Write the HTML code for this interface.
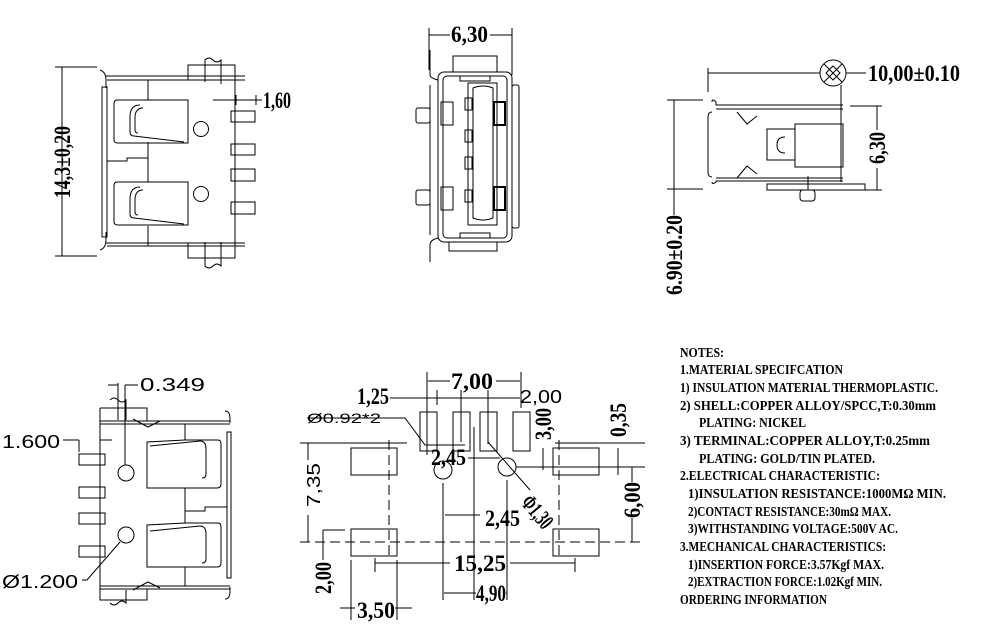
<!DOCTYPE html>
<html><head><meta charset="utf-8"><style>
html,body{margin:0;padding:0;background:#fff;}
svg{display:block}
.d{font-family:"Liberation Serif",serif;font-weight:bold;font-size:23px;}
.t{font-family:"Liberation Sans",sans-serif;font-size:18px;}
.n{font-family:"Liberation Serif","Noto Serif CJK SC",serif;font-weight:bold;font-size:13.5px;}
</style></head><body>
<svg width="995" height="630" viewBox="0 0 995 630" xmlns="http://www.w3.org/2000/svg">
<g fill="none" stroke="#000" stroke-width="1">
<!-- View 1 top-left -->
<line x1="55" y1="67" x2="97" y2="67"/><line x1="55" y1="256" x2="97" y2="256"/>
<line x1="62" y1="67" x2="62" y2="256"/>
<path d="M100 70 q6 2 6 10 v8 M100 250 q6 -2 6 -10 v-8"/>
<rect x="102" y="87" width="5" height="150"/>
<line x1="107" y1="80" x2="245" y2="80"/><line x1="106" y1="76" x2="245" y2="76"/>
<line x1="107" y1="246" x2="245" y2="246"/><line x1="106" y1="243" x2="245" y2="243"/>
<path d="M148 80 V100 M148 142 V182 M148 226 V246"/>
<line x1="235" y1="80" x2="235" y2="246"/>
<path d="M148 100 H117 q-3 0 -3 4 V140 q0 3 4 3 H188 V100 Z"/>
<path d="M148 182 H117 q-3 0 -3 4 V222 q0 3 4 3 H188 V182 Z"/>
<path d="M140 105 q-10 0 -10 12 v15 q0 4 4 4 l50 6 M140 187 q-10 0 -10 12 v15 q0 4 4 4 l50 6"/>
<path d="M143 108 q-8 0 -8 10 v12 q0 3 3 3 M143 190 q-8 0 -8 10 v12 q0 3 3 3"/>
<path d="M107 161 h20 v-3 h21"/>
<circle cx="201" cy="129" r="7.5"/><circle cx="201" cy="194" r="7.5"/>
<rect x="231" y="111" width="24" height="11"/><rect x="231" y="144" width="24" height="11"/>
<rect x="231" y="169" width="24" height="12"/><rect x="231" y="202" width="24" height="12"/>
<rect x="188" y="65" width="47" height="15"/><rect x="188" y="243" width="47" height="15"/>
<path d="M205 82 V60 q4 -4 8 0 q4 4 8 0 V84 M205 242 V266 q4 4 8 0 q4 -4 8 0 V242"/>
<line x1="213" y1="100" x2="262" y2="100"/><line x1="236" y1="95" x2="236" y2="105"/><line x1="256" y1="95" x2="256" y2="105"/>
<!-- View 2 top-middle -->
<line x1="429" y1="28" x2="429" y2="70"/><line x1="512" y1="28" x2="512" y2="75"/>
<line x1="429" y1="35" x2="450" y2="35"/><line x1="490" y1="35" x2="512" y2="35"/>
<rect x="438" y="72" width="74" height="170" rx="6"/>
<rect x="443" y="76" width="64" height="162" rx="4"/>
<rect x="453" y="56" width="44" height="16"/>
<rect x="449" y="242" width="48" height="9"/>
<rect x="460" y="76" width="30" height="5"/><rect x="460" y="233" width="30" height="5"/>
<line x1="468" y1="83" x2="468" y2="225"/>
<path d="M468 83 H497 V225 H468"/>
<path d="M473 88 q10 -4 20 0 V218 q-10 4 -20 0 Z"/>
<rect x="465" y="98" width="7" height="12"/><rect x="465" y="130" width="7" height="12"/>
<rect x="465" y="157" width="7" height="12"/><rect x="465" y="190" width="7" height="12"/>
<rect x="441" y="102" width="12" height="23"/><rect x="441" y="187" width="12" height="23"/>
<rect x="494" y="102" width="11" height="23" stroke-width="2"/><rect x="494" y="187" width="11" height="23" stroke-width="2"/>
<path d="M430 50 V75 q0 3 8 5 M430 262 V245 q0 -5 8 -7"/>
<line x1="430" y1="85" x2="430" y2="235"/>
<rect x="416" y="108" width="14" height="15" rx="2"/><rect x="416" y="190" width="14" height="15" rx="2"/>
<rect x="512" y="85" width="7" height="143" rx="2"/>
<!-- View 3 top-right -->
<line x1="708" y1="68" x2="708" y2="92"/>
<line x1="708" y1="73" x2="820" y2="73"/><line x1="846" y1="73" x2="866" y2="73"/>
<circle cx="833" cy="73" r="13"/>
<path d="M824 64 L842 82 M842 64 L824 82 M826 73 L833 66 L840 73 L833 80 Z"/>
<line x1="841" y1="85" x2="841" y2="182"/>
<path d="M712 102 q0 -4 4 0 v3 H843 M712 182 q0 3 4 0 v-1 H843"/>
<line x1="716" y1="109" x2="843" y2="109"/><line x1="716" y1="178" x2="843" y2="178"/>
<path d="M712 112 q-4 0 -4 5 V172 q0 5 4 5"/>
<path d="M737 112 l10 12 l10 -8 M737 178 l10 -12 l10 8"/>
<rect x="767" y="129" width="28" height="31"/>
<rect x="795" y="124" width="48" height="43"/>
<path d="M785 137 q-8 0 -8 8 q0 8 8 8"/>
<rect x="767" y="184" width="98" height="6"/>
<rect x="800" y="190" width="15" height="11" rx="3"/>
<line x1="808" y1="176" x2="808" y2="190"/>
<line x1="850" y1="106" x2="882" y2="106"/><line x1="850" y1="190" x2="882" y2="190"/>
<line x1="877" y1="106" x2="877" y2="130"/><line x1="877" y1="168" x2="877" y2="190"/>
<line x1="667" y1="100" x2="703" y2="100"/><line x1="667" y1="189" x2="703" y2="189"/>
<line x1="674" y1="100" x2="674" y2="215"/>
<!-- View 4 bottom-left -->
<path d="M100 408 H147 V421 M100 408 V600 H147 V589"/>
<line x1="100" y1="421" x2="230" y2="421"/><line x1="100" y1="424" x2="230" y2="424"/>
<line x1="100" y1="589" x2="230" y2="589"/><line x1="100" y1="586" x2="230" y2="586"/>
<path d="M225 411 q5 0 5 8 V423 M225 599 q5 0 5 -8 V587"/>
<rect x="227" y="432" width="4" height="146"/>
<path d="M185 424 V440 M185 488 V523 M185 567 V586 M185 511 h20 v-4 h22"/>
<path d="M185 440 H218 q3 0 3 4 V484 q0 4 -4 4 H147 V442 Z"/>
<path d="M185 523 H218 q3 0 3 4 V563 q0 4 -4 4 H147 V525 Z"/>
<path d="M150 446 l50 -5 q6 0 6 8 v25 q0 4 -4 4 M150 531 l50 -5 q6 0 6 8 v25 q0 4 -4 4"/>
<circle cx="126" cy="473" r="8"/><circle cx="126" cy="535" r="8"/>
<rect x="79" y="454" width="26" height="11"/><rect x="79" y="487" width="26" height="11"/>
<rect x="79" y="513" width="26" height="11"/><rect x="79" y="546" width="26" height="11"/>
<path d="M110 400 q4 -4 8 0 q4 4 8 0 V420 M110 603 q4 4 8 0 q4 -4 8 0 V590"/>
<path d="M133 419 l15 8 l12 -6 M133 590 l15 -8 l12 6"/>
<line x1="125" y1="385" x2="125" y2="465"/><line x1="118" y1="383" x2="118" y2="420"/>
<line x1="108" y1="385" x2="118" y2="385"/><line x1="125" y1="385" x2="138" y2="385"/>
<line x1="63" y1="440" x2="79" y2="440"/><line x1="79" y1="440" x2="79" y2="452"/><line x1="100" y1="440" x2="112" y2="440"/>
<path d="M82 580 H87 L120 542"/>
<!-- View 5 bottom-middle -->
<rect x="420" y="412" width="17" height="39"/><rect x="453" y="412" width="17" height="39"/>
<rect x="480" y="412" width="17" height="39"/><rect x="513" y="412" width="17" height="39"/>
<line x1="427" y1="372" x2="427" y2="455"/><line x1="521" y1="372" x2="521" y2="408"/>
<line x1="428" y1="381" x2="450" y2="381"/><line x1="496" y1="381" x2="520" y2="381"/>
<line x1="390" y1="398" x2="520" y2="398"/>
<line x1="437" y1="390" x2="437" y2="405"/><line x1="461" y1="390" x2="461" y2="442"/><line x1="488" y1="390" x2="488" y2="444"/>
<path d="M307 418 H405 L425 445 H465"/>
<rect x="351" y="448" width="46" height="27"/><rect x="351" y="529" width="46" height="27"/>
<rect x="553" y="448" width="46" height="27"/><rect x="553" y="529" width="46" height="27"/>
<g stroke-dasharray="10,5"><line x1="389" y1="440" x2="389" y2="560"/><line x1="559" y1="440" x2="559" y2="560"/>
<line x1="300" y1="542" x2="640" y2="542"/></g>
<circle cx="443" cy="470" r="9"/><circle cx="507" cy="467" r="9"/>
<line x1="474" y1="427" x2="474" y2="600"/>
<line x1="443" y1="483" x2="443" y2="600"/><line x1="507" y1="480" x2="507" y2="600"/>
<line x1="468" y1="458" x2="500" y2="458"/>
<line x1="488" y1="442" x2="530" y2="490"/>
<line x1="516" y1="467" x2="645" y2="467"/><line x1="555" y1="443" x2="645" y2="443"/>
<line x1="543" y1="448" x2="543" y2="470"/>
<line x1="618" y1="448" x2="618" y2="475"/>
<line x1="632" y1="467" x2="632" y2="482"/><line x1="632" y1="518" x2="632" y2="542"/>
<line x1="300" y1="443" x2="407" y2="443"/>
<line x1="308" y1="443" x2="308" y2="460"/><line x1="308" y1="515" x2="308" y2="542"/>
<line x1="445" y1="515" x2="480" y2="515"/>
<line x1="323" y1="530" x2="345" y2="530"/><line x1="323" y1="530" x2="323" y2="560"/>
<line x1="375" y1="563" x2="450" y2="563"/><line x1="510" y1="563" x2="575" y2="563"/>
<line x1="375" y1="558" x2="375" y2="572"/><line x1="575" y1="558" x2="575" y2="572"/>
<line x1="351" y1="560" x2="351" y2="620"/><line x1="397" y1="560" x2="397" y2="620"/>
<line x1="340" y1="608" x2="355" y2="608"/><line x1="395" y1="608" x2="412" y2="608"/>
<line x1="444" y1="593" x2="476" y2="593"/><line x1="506" y1="593" x2="507" y2="593"/>
</g>
<!-- text -->
<g class="d" fill="#000">
<text transform="translate(70,162) rotate(-90)" text-anchor="middle" textLength="72" lengthAdjust="spacingAndGlyphs">14,3±0,20</text>
<text x="263" y="108" textLength="28" lengthAdjust="spacingAndGlyphs">1,60</text>
<text x="451" y="42" textLength="37" lengthAdjust="spacingAndGlyphs">6,30</text>
<text x="868" y="81" textLength="92" lengthAdjust="spacingAndGlyphs">10,00±0.10</text>
<text transform="translate(885,148) rotate(-90)" text-anchor="middle" textLength="32" lengthAdjust="spacingAndGlyphs">6,30</text>
<text transform="translate(682,255) rotate(-90)" text-anchor="middle" textLength="80" lengthAdjust="spacingAndGlyphs">6.90±0.20</text>
<text x="451" y="389" textLength="42" lengthAdjust="spacingAndGlyphs">7,00</text>
<text x="357" y="404" textLength="32" lengthAdjust="spacingAndGlyphs">1,25</text>
<text transform="translate(551,424) rotate(-90)" text-anchor="middle" textLength="32" lengthAdjust="spacingAndGlyphs">3,00</text>
<text transform="translate(626,420) rotate(-90)" text-anchor="middle" textLength="34" lengthAdjust="spacingAndGlyphs">0,35</text>
<text x="431" y="465" textLength="35" lengthAdjust="spacingAndGlyphs">2,45</text>
<text x="485" y="526" textLength="35" lengthAdjust="spacingAndGlyphs">2,45</text>
<text transform="translate(520,503) rotate(50)" textLength="36" lengthAdjust="spacingAndGlyphs">Φ1,30</text>
<text transform="translate(640,500) rotate(-90)" text-anchor="middle" textLength="36" lengthAdjust="spacingAndGlyphs">6,00</text>
<text x="454" y="571" textLength="52" lengthAdjust="spacingAndGlyphs">15,25</text>
<text transform="translate(331,578) rotate(-90)" text-anchor="middle" textLength="32" lengthAdjust="spacingAndGlyphs">2,00</text>
<text x="357" y="618" textLength="38" lengthAdjust="spacingAndGlyphs">3,50</text>
<text x="476" y="601" textLength="30" lengthAdjust="spacingAndGlyphs">4,90</text>
</g>
<g class="t" fill="#000">
<text x="140" y="391" textLength="65" lengthAdjust="spacingAndGlyphs">0.349</text>
<text x="2" y="448" textLength="58" lengthAdjust="spacingAndGlyphs">1.600</text>
<text x="2" y="588" textLength="76" lengthAdjust="spacingAndGlyphs">Ø1.200</text>
<text x="520" y="403" textLength="42" lengthAdjust="spacingAndGlyphs">2,00</text>
<text x="307" y="423" font-size="14" textLength="74" lengthAdjust="spacingAndGlyphs">Ø0.92*2</text>
<text transform="translate(320,485) rotate(-90)" text-anchor="middle" textLength="44" lengthAdjust="spacingAndGlyphs">7,35</text>
</g>
<g class="n" fill="#000">
<text x="680" y="357" textLength="44" lengthAdjust="spacingAndGlyphs">NOTES:</text>
<text x="680" y="374" textLength="163" lengthAdjust="spacingAndGlyphs">1.MATERIAL SPECIFCATION</text>
<text x="680" y="392" textLength="258" lengthAdjust="spacingAndGlyphs">1) INSULATION MATERIAL THERMOPLASTIC.</text>
<text x="680" y="410" textLength="256" lengthAdjust="spacingAndGlyphs">2) SHELL:COPPER ALLOY/SPCC,T:0.30mm</text>
<text x="699" y="427" textLength="107" lengthAdjust="spacingAndGlyphs">PLATING: NICKEL</text>
<text x="680" y="445" textLength="250" lengthAdjust="spacingAndGlyphs">3) TERMINAL:COPPER ALLOY,T:0.25mm</text>
<text x="699" y="463" textLength="176" lengthAdjust="spacingAndGlyphs">PLATING: GOLD/TIN PLATED.</text>
<text x="680" y="480" textLength="200" lengthAdjust="spacingAndGlyphs">2.ELECTRICAL CHARACTERISTIC:</text>
<text x="688" y="498" textLength="258" lengthAdjust="spacingAndGlyphs">1)INSULATION RESISTANCE:1000MΩ MIN.</text>
<text x="688" y="516" textLength="203" lengthAdjust="spacingAndGlyphs">2)CONTACT RESISTANCE:30mΩ MAX.</text>
<text x="688" y="533" textLength="210" lengthAdjust="spacingAndGlyphs">3)WITHSTANDING VOLTAGE:500V AC.</text>
<text x="680" y="551" textLength="206" lengthAdjust="spacingAndGlyphs">3.MECHANICAL CHARACTERISTICS:</text>
<text x="688" y="569" textLength="196" lengthAdjust="spacingAndGlyphs">1)INSERTION FORCE:3.57Kgf MAX.</text>
<text x="688" y="586" textLength="194" lengthAdjust="spacingAndGlyphs">2)EXTRACTION FORCE:1.02Kgf MIN.</text>
<text x="680" y="604" textLength="147" lengthAdjust="spacingAndGlyphs">ORDERING INFORMATION</text>
</g>
</svg>
</body></html>
